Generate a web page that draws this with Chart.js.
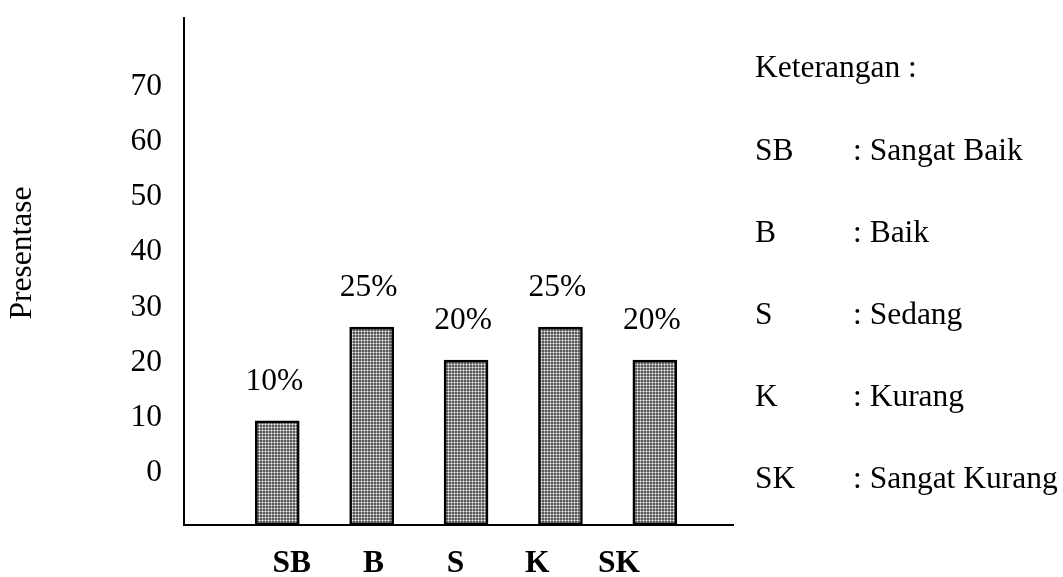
<!DOCTYPE html>
<html lang="id">
<head>
    <meta charset="UTF-8">
    <title>Presentase</title>
    <script src="https://cdn.jsdelivr.net/npm/chart.js"></script>
    <style>
        html, body { margin: 0; padding: 0; background: #fff; }
        .wrap { width: 1063px; height: 577px; position: relative; }
    </style>
</head>
<body>
    <div class="wrap"><canvas id="barChart"></canvas></div>

    <script>
        // Data
        const categories = ['SB', 'B', 'S', 'K', 'SK'];
        const barValues = [9.4, 26.4, 20.4, 26.4, 20.4];
        const pctLabels = ['10%', '25%', '20%', '25%', '20%'];
        const yTicks = [0, 10, 20, 30, 40, 50, 60, 70];
        const legendNames = ['Sangat Baik', 'Baik', 'Sedang', 'Kurang', 'Sangat Kurang'];

        const FONT = '"Liberation Serif", "Times New Roman", serif';
        const Y_MIN = -9.53, Y_MAX = 82.53;

        // grey stipple fill like the original
        function makePattern() {
            const c = document.createElement('canvas');
            c.width = 3; c.height = 3;
            const g = c.getContext('2d');
            const cols = [['#5a5a5a', '#a4a4a4', '#5a5a5a'], ['#a4a4a4', '#f2f2f2', '#a4a4a4'], ['#5a5a5a', '#a4a4a4', '#5a5a5a']];
            for (let y = 0; y < 3; y++) {
                for (let x = 0; x < 3; x++) {
                    g.fillStyle = cols[y][x];
                    g.fillRect(x, y, 1, 1);
                }
            }
            return g.createPattern(c, 'repeat');
        }

        // percentage text above bars, axis title and the "Keterangan" block
        const extrasPlugin = {
            id: 'extras',
            afterDraw(chart) {
                const ctx = chart.ctx;
                ctx.save();
                ctx.fillStyle = '#000';
                ctx.font = '31.5px ' + FONT;
                ctx.textAlign = 'center';
                ctx.textBaseline = 'middle';
                chart.getDatasetMeta(0).data.forEach((bar, i) => {
                    ctx.fillText(pctLabels[i], bar.x - 3, bar.y - 39);
                });

                // y axis title
                ctx.save();
                ctx.translate(23, 253);
                ctx.rotate(-Math.PI / 2);
                ctx.fillText('Presentase', 0, 0);
                ctx.restore();

                // legend block
                ctx.textAlign = 'left';
                ctx.textBaseline = 'alphabetic';
                ctx.fillText('Keterangan :', 755, 77);
                categories.forEach((c, i) => {
                    const y = 160 + i * 82;
                    ctx.fillText(c, 755, y);
                    ctx.fillText(': ' + legendNames[i], 853, y);
                });
                ctx.restore();
            }
        };

        window.onload = function () {
            const ctx = document.getElementById('barChart').getContext('2d');
            new Chart(ctx, {
                type: 'bar',
                data: {
                    datasets: [{
                        data: barValues.map((v, i) => ({ x: i, y: v })),
                        base: Y_MIN,
                        backgroundColor: makePattern(),
                        borderColor: '#000',
                        borderWidth: 2.5,
                        borderSkipped: false,
                        barThickness: 44,
                        xAxisID: 'x'
                    }]
                },
                options: {
                    responsive: true,
                    maintainAspectRatio: false,
                    animation: false,
                    layout: { padding: { top: 18, right: 330, left: 0, bottom: 0 } },
                    plugins: {
                        legend: { display: false },
                        tooltip: { enabled: false }
                    },
                    scales: {
                        x: {
                            type: 'linear',
                            display: false,
                            offset: false,
                            min: -0.988,
                            max: 4.828
                        },
                        xl: {
                            type: 'linear',
                            position: 'bottom',
                            offset: false,
                            min: -1.318,
                            max: 5.394,
                            grid: { display: false, drawTicks: false, offset: false },
                            border: { display: true, color: '#000', width: 2 },
                            afterBuildTicks: (scale) => {
                                scale.ticks = categories.map((c, i) => ({ value: i }));
                            },
                            afterFit: (scale) => {
                                scale.height = 52;
                                scale.paddingLeft = 0;
                                scale.paddingRight = 0;
                            },
                            ticks: {
                                autoSkip: false,
                                maxRotation: 0,
                                padding: 20,
                                color: '#000',
                                font: { family: FONT, size: 31.5, weight: 'bold' },
                                callback: (v) => categories[v]
                            }
                        },
                        y: {
                            min: Y_MIN,
                            max: Y_MAX,
                            grid: { display: false, drawTicks: false },
                            border: { display: true, color: '#000', width: 2 },
                            afterBuildTicks: (scale) => {
                                scale.ticks = yTicks.map(v => ({ value: v }));
                            },
                            afterFit: (scale) => {
                                scale.width = 184;
                                scale.paddingTop = 0;
                                scale.paddingBottom = 0;
                            },
                            ticks: {
                                padding: 22,
                                color: '#000',
                                font: { family: FONT, size: 31.5 }
                            }
                        }
                    }
                },
                plugins: [extrasPlugin]
            });
        };
    </script>
</body>
</html>
